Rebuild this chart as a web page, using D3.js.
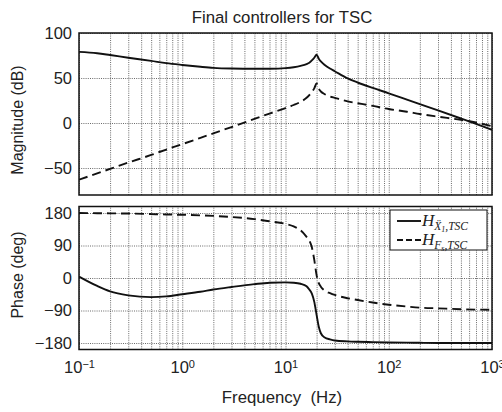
<!DOCTYPE html>
<html>
<head>
<meta charset="utf-8">
<script src="https://cdn.jsdelivr.net/npm/d3@7"></script>
<style>
  body { margin: 0; background: #fff; }
  text { font-family: "Liberation Sans", Arial, sans-serif; fill: #222; }
</style>
</head>
<body>
<div id="vis"></div>
<script>
const frame_width = 502;
const frame_height = 412;

// frequency points (Hz), shared by all four curves
const freq = [0.1, 0.15, 0.2, 0.3, 0.5, 0.7, 1, 1.5, 2, 3, 5, 7, 10, 12, 14, 16, 17, 18, 19, 20,
              21, 22, 24, 27, 30, 40, 50, 70, 100, 150, 200, 300, 500, 700, 1000];
// magnitude (dB)
const mag_x1 = [79, 77.5, 75.5, 72.5, 69, 66.5, 64.5, 62.5, 61.3, 60.5, 60.2, 60.3, 61, 62, 63.5, 65.5, 67, 69.5, 72.5, 76,
                71.5, 68.5, 64.5, 60.5, 57.5, 49.5, 45, 39, 33, 26, 21, 14, 5, -1, -7.5];
const mag_fs = [-63, -56, -51, -44, -35.5, -29.5, -23.5, -16.5, -11.5, -4.5, 4.5, 10.5, 16.5, 20, 23.5, 28, 31, 34.5, 38.5, 44,
                38, 35, 32, 29.5, 28, 24, 22, 19, 15.5, 12.5, 10, 7, 3.5, 0.5, -3.5];
// phase (deg)
const phase_x1 = [4, -22, -37, -48, -53, -51, -45, -38, -32, -25, -17, -13, -12, -13, -16, -23, -32, -43, -66, -102,
                  -135, -153, -165, -170, -173, -175.5, -176.5, -177.5, -178.5, -179, -179.5, -180, -180, -180, -180];
const phase_fs = [180, 179.5, 179, 178.5, 177, 176, 175, 173.5, 172, 169, 163, 157, 150, 143, 132, 114, 104, 85, 50, 8,
                  -14, -24, -35, -42, -47, -56, -61, -68, -74, -79, -82, -84, -86.5, -87.5, -88];

const mag_ticks = [100, 50, 0, -50];
const phase_ticks = [180, 90, 0, -90, -180];
const decade_ticks = [0.1, 1, 10, 100, 1000];
const decade_exp = ["\u22121", "0", "1", "2", "3"];

const left = 79, right = 492;
const mag_box = {top: 33, bottom: 195};
const phase_box = {top: 206.5, bottom: 349.5};

const svg = d3.select("#vis").append("svg")
    .attr("width", frame_width)
    .attr("height", frame_height);

svg.append("rect").attr("width", frame_width).attr("height", frame_height).attr("fill", "#fff");

const x_scale = d3.scaleLog().domain([0.1, 1000]).range([left, right]);
const y_mag = d3.scaleLinear().domain([-80, 100]).range([mag_box.bottom, mag_box.top]);
const y_phase = d3.scaleLinear().domain([-198, 198]).range([phase_box.bottom, phase_box.top]);

// all grid positions: 1..9 per decade
const minor = [];
decade_ticks.slice(0, -1).forEach((d) => { for (let k = 1; k < 10; k++) minor.push(d * k); });
minor.push(1000);

function panel(y_scale, ticks, box, series) {
    const g = svg.append("g");
    const h = box.bottom - box.top;

    // vertical grid
    g.append("g")
        .attr("transform", "translate(0," + box.bottom + ")")
        .call(d3.axisBottom(x_scale).tickValues(minor).tickSize(-h).tickFormat(""))
        .call((a) => a.select(".domain").remove())
        .selectAll("line")
            .attr("stroke", "#444").attr("stroke-width", 0.8).attr("stroke-dasharray", "1,1.2");

    // horizontal grid
    g.append("g")
        .attr("transform", "translate(" + left + ",0)")
        .call(d3.axisLeft(y_scale).tickValues(ticks).tickSize(-(right - left)).tickFormat(""))
        .call((a) => a.select(".domain").remove())
        .selectAll("line")
            .attr("stroke", "#444").attr("stroke-width", 0.8).attr("stroke-dasharray", "1,1.2");

    // y tick labels
    g.append("g")
        .attr("transform", "translate(" + left + ",0)")
        .call(d3.axisLeft(y_scale).tickValues(ticks).tickSize(0).tickPadding(7)
            .tickFormat((d) => d < 0 ? "\u2212" + Math.abs(d) : d))
        .call((a) => a.select(".domain").remove())
        .selectAll("text")
            .attr("font-size", "16.5px")
            .attr("font-family", "Liberation Sans, Arial, sans-serif")
            .attr("fill", "#222");

    const clip_id = "clip" + box.top;
    svg.append("clipPath").attr("id", clip_id)
        .append("rect").attr("x", left).attr("y", box.top).attr("width", right - left).attr("height", h);

    const line = d3.line().curve(d3.curveMonotoneX);
    series.forEach((s) => {
        g.append("path")
            .datum(freq.map((f, i) => [x_scale(f), y_scale(s.values[i])]))
            .attr("clip-path", "url(#" + clip_id + ")")
            .attr("d", line)
            .attr("fill", "none")
            .attr("stroke", "#111")
            .attr("stroke-width", 1.9)
            .attr("stroke-dasharray", s.dash);
    });

    g.append("rect")
        .attr("x", left).attr("y", box.top)
        .attr("width", right - left).attr("height", h)
        .attr("fill", "none").attr("stroke", "#111").attr("stroke-width", 1.5);
    return g;
}

panel(y_mag, mag_ticks, mag_box, [
    {values: mag_x1, dash: null},
    {values: mag_fs, dash: "9,5"}
]);
panel(y_phase, phase_ticks, phase_box, [
    {values: phase_x1, dash: null},
    {values: phase_fs, dash: "9,5"}
]);

// x tick labels 10^n
const xaxis = svg.append("g")
    .attr("transform", "translate(0," + phase_box.bottom + ")")
    .call(d3.axisBottom(x_scale).tickValues(decade_ticks).tickSize(0).tickPadding(12).tickFormat(""));
xaxis.select(".domain").remove();
xaxis.selectAll("text")
    .attr("font-size", "16.5px")
    .attr("font-family", "Liberation Sans, Arial, sans-serif")
    .attr("fill", "#222")
    .each(function(d, i) {
        const t = d3.select(this);
        t.append("tspan").text("10");
        t.append("tspan").attr("dy", "-0.45em").attr("font-size", "11px").text(decade_exp[i]);
    });

// titles
svg.append("text")
    .attr("x", 282).attr("y", 23)
    .attr("text-anchor", "middle")
    .attr("font-size", "16.8px")
    .text("Final controllers for TSC");

svg.append("text")
    .attr("x", 282).attr("y", 403)
    .attr("text-anchor", "middle")
    .attr("font-size", "16.8px")
    .style("white-space", "pre")
    .text("Frequency  (Hz)");

svg.append("text")
    .attr("transform", "translate(23,120) rotate(-90)")
    .attr("text-anchor", "middle")
    .attr("font-size", "16px")
    .text("Magnitude (dB)");

svg.append("text")
    .attr("transform", "translate(23,275) rotate(-90)")
    .attr("text-anchor", "middle")
    .attr("font-size", "16px")
    .text("Phase (deg)");

// legend
const legend = svg.append("g");
legend.append("rect")
    .attr("x", 390).attr("y", 210).attr("width", 97).attr("height", 40)
    .attr("fill", "#fff").attr("stroke", "#111").attr("stroke-width", 1);

const legend_items = [
    {sub: "\u1E8C", subsub: "1", rest: ",TSC", dash: null},
    {sub: "F", subsub: "s", rest: ",TSC", dash: "6,3"}
];
legend_items.forEach((d, i) => {
    const yy = 221 + i * 19;
    legend.append("line")
        .attr("x1", 397).attr("x2", 421).attr("y1", yy).attr("y2", yy)
        .attr("stroke", "#111").attr("stroke-width", 1.9).attr("stroke-dasharray", d.dash);
    const t = legend.append("text")
        .attr("x", 422).attr("y", yy + 5)
        .style("font-family", "Liberation Serif, DejaVu Serif, serif")
        .style("font-style", "italic")
        .attr("font-size", "17px");
    t.append("tspan").text("H");
    t.append("tspan").attr("dy", 3.5).attr("font-size", "11.5px").text(d.sub);
    t.append("tspan").attr("dy", 2).attr("font-size", "8px").text(d.subsub);
    t.append("tspan").attr("dy", -2).attr("font-size", "11.5px").text(d.rest);
});
</script>
</body>
</html>
